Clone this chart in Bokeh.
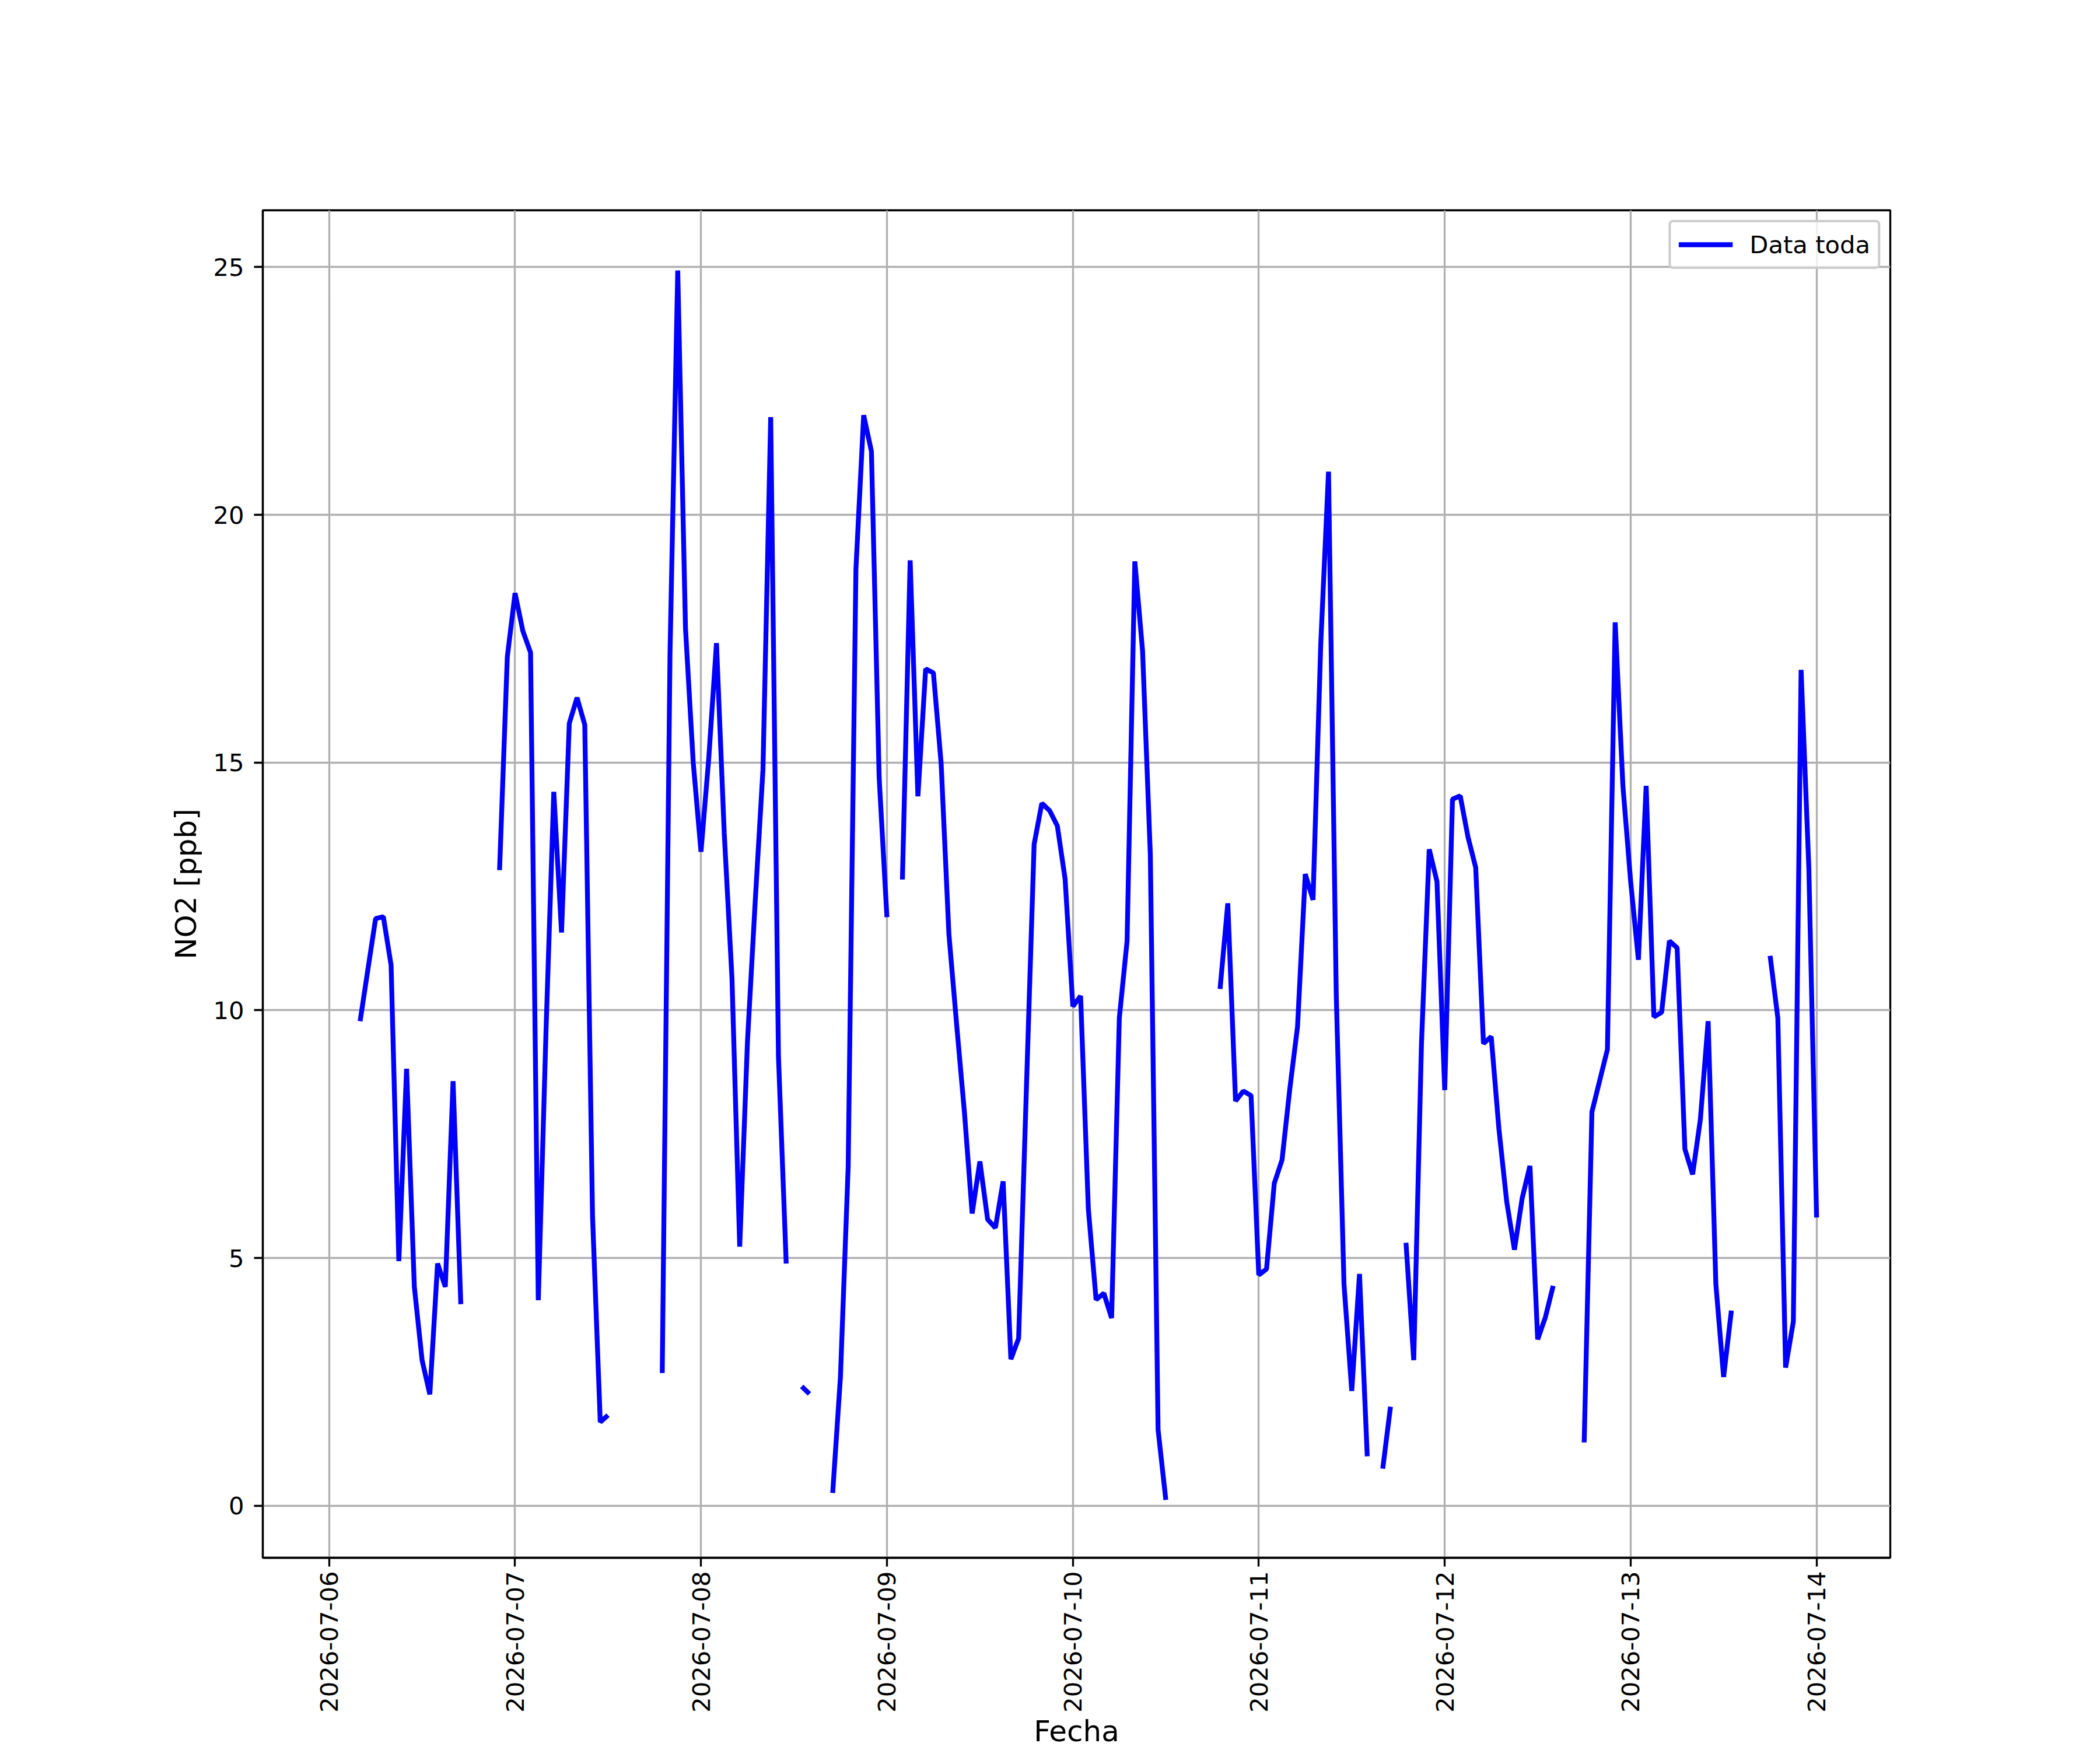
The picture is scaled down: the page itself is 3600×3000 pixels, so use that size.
import math

import pandas as pd
from bokeh.plotting import figure
from bokeh.models import Range1d, FixedTicker, DatetimeTickFormatter, ColumnDataSource
from bokeh.embed import file_html
from bokeh.resources import INLINE

nan = float("nan")

# ---- data (hourly NO2, ppb), first sample 2026-07-06 01:00 ----
start_time = "2026-07-06 01:00"
no2_day1 = [nan, nan, nan, 9.78, 10.82, 11.85, 11.89, 10.91, 4.94, 8.82, 4.42, 2.94,
            2.25, 4.89, 4.42, 8.57, 4.07, nan, nan, nan, nan, 12.83, 17.13, 18.42]
no2_day2 = [17.66, 17.22, 4.15, 9.6, 14.41, 11.57, 15.79, 16.31, 15.76, 5.85, 1.69, 1.83,
            nan, nan, nan, nan, nan, nan, 2.68, 17.19, 24.93, 17.71, 15.0, 13.2]
no2_day3 = [15.08, 17.41, 13.58, 10.65, 5.23, 9.37, 12.2, 14.86, 21.97, 9.07, 4.89, nan,
            2.41, 2.26, nan, nan, 0.26, 2.60, 6.85, 18.91, 22.01, 21.28, 14.69, 11.88]
no2_day4 = [nan, 12.64, 19.08, 14.32, 16.89, 16.81, 14.98, 11.54, 9.71, 7.95, 5.90, 6.95,
            5.78, 5.61, 6.55, 2.96, 3.38, 8.4, 13.35, 14.18, 14.03, 13.72, 12.65, 10.08]
no2_day5 = [10.29, 5.99, 4.16, 4.29, 3.79, 9.85, 11.4, 19.06, 17.25, 13.14, 1.54, 0.12,
            nan, nan, nan, nan, nan, nan, 10.43, 12.16, 8.17, 8.37, 8.28, 4.66]
no2_day6 = [4.78, 6.51, 6.98, 8.41, 9.67, 12.75, 12.23, 17.4, 20.87, 10.31, 4.47, 2.32,
            4.68, 1.0, nan, 0.75, 2.0, nan, 5.31, 2.94, 9.33, 13.25, 12.6, 8.39]
no2_day7 = [14.26, 14.33, 13.5, 12.88, 9.33, 9.47, 7.6, 6.14, 5.17, 6.21, 6.86, 3.36,
            3.81, 4.44, nan, nan, nan, 1.28, 7.95, 8.58, 9.21, 17.83, 14.53, 12.6]
no2_day8 = [11.02, 14.53, 9.87, 9.96, 11.4, 11.26, 7.2, 6.69, 7.8, 9.78, 4.47, 2.6,
            3.94, nan, nan, nan, nan, 11.1, 9.84, 2.79, 3.72, 16.87, 12.87, 5.82]

tick_dates = ["2026-07-06", "2026-07-07", "2026-07-08", "2026-07-09", "2026-07-10",
              "2026-07-11", "2026-07-12", "2026-07-13", "2026-07-14"]
y_ticks = [0, 5, 10, 15, 20, 25]
series_label = "Data toda"
x_label = "Fecha"
y_label = "NO2 [ppb]"

no2 = no2_day1 + no2_day2 + no2_day3 + no2_day4 + no2_day5 + no2_day6 + no2_day7 + no2_day8
times = pd.date_range(start_time, periods=len(no2), freq="h")

src = ColumnDataSource(data=dict(t=times, v=no2))


def ms(d):
    return (pd.Timestamp(d) - pd.Timestamp("1970-01-01")) / pd.Timedelta(milliseconds=1)


day_ms = 86400000.0
x_start = ms(tick_dates[0]) - 0.3567 * day_ms
x_end = ms(tick_dates[-1]) + 0.3964 * day_ms

FONT = "DejaVu Sans"

p = figure(width=3592, height=3000, x_axis_type="datetime",
           x_range=Range1d(x_start, x_end), y_range=Range1d(-1.048, 26.145),
           output_backend="svg", toolbar_location=None,
           min_border_left=450, min_border_right=352,
           min_border_top=360, min_border_bottom=330)
p.background_fill_color = "white"
p.border_fill_color = "white"
p.outline_line_color = "black"
p.outline_line_width = 3.3
p.outline_line_alpha = 1.0

p.line("t", "v", source=src, line_color="#0000ff", line_width=8.3, legend_label=series_label)

# axes
p.xaxis.ticker = FixedTicker(ticks=[ms(d) for d in tick_dates])
p.xaxis.formatter = DatetimeTickFormatter(days="%Y-%m-%d", months="%Y-%m-%d",
                                          hours="%Y-%m-%d", years="%Y-%m-%d")
p.yaxis.ticker = FixedTicker(ticks=y_ticks)
p.xaxis.major_label_orientation = math.pi / 2

for ax in (p.xaxis[0], p.yaxis[0]):
    ax.axis_line_color = "black"
    ax.axis_line_width = 3.3
    ax.major_tick_line_color = "black"
    ax.major_tick_line_width = 3.3
    ax.major_tick_out = 15
    ax.major_tick_in = 0
    ax.minor_tick_line_color = None
    ax.major_label_text_font = FONT
    ax.major_label_text_font_size = "41.7px"
    ax.major_label_text_color = "black"
    ax.axis_label_text_font = FONT
    ax.axis_label_text_font_size = "50px"
    ax.axis_label_text_font_style = "normal"
    ax.axis_label_text_color = "black"

p.xaxis.axis_label = x_label
p.yaxis.axis_label = y_label
p.xaxis.major_label_standoff = 8
p.xaxis.axis_label_standoff = 0
p.yaxis.major_label_standoff = 17
p.yaxis.axis_label_standoff = 14

# grid
for g in (p.xgrid[0], p.ygrid[0]):
    g.grid_line_color = "#b0b0b0"
    g.grid_line_width = 3.3

# legend
lg = p.legend[0]
lg.location = "top_right"
lg.margin = 17
lg.padding = 13
lg.spacing = 0
lg.glyph_width = 93
lg.glyph_height = 50
lg.label_height = 50
lg.label_standoff = 29
lg.label_text_font = FONT
lg.label_text_font_size = "41.7px"
lg.label_text_color = "black"
lg.border_line_color = "#cccccc"
lg.border_line_width = 4
lg.border_line_alpha = 1.0
lg.background_fill_color = "white"
lg.background_fill_alpha = 0.8
try:
    lg.border_radius = 8
except Exception:
    pass

open("out.html", "w").write(file_html(p, INLINE))
